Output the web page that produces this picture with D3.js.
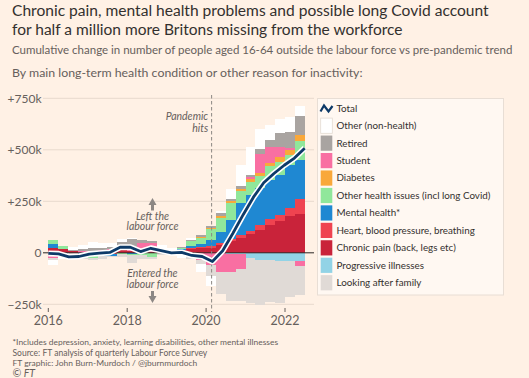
<!DOCTYPE html>
<meta charset="utf-8">
<script src="https://cdnjs.cloudflare.com/ajax/libs/d3/7.8.5/d3.min.js"></script>
<style>
  body { margin: 0; background: #fff1e5; }
  text { font-family: Lato, "Open Sans", sans-serif; }
</style>
<div id="chart"></div>
<script>

// quarterly bars, 2016 Q1 .. 2022 Q2 (values in thousands)
var quarters = d3.range(26).map(function(i) { return 2016 + i / 4; });

var progressive = [0,0,0,0,0,0,0,0,0,0,0,0,0,0,0,0,0,0,-5,-8,-25,-35,-36,-38,-40,-40];
var chronic     = [25,20,8,0,0,4,8,14,8,4,5,3,4,12,20,25,25,37,56,73,92,113,137,155,180,189];
var heart       = [0,0,0,0,0,0,-4,2,2,2,-3,0,0,2,2,3,6,11,9,11,13,24,28,30,38,74];
var mental      = [19,-8,0,-12,-15,-15,-10,0,-5,0,0,0,2,4,13,17,32,54,95,158,177,178,190,195,209,187];
var otherHealth = [20,12,0,0,-8,0,0,-8,-5,-12,-18,0,6,4,20,27,51,67,80,58,63,56,64,63,49,93];
var diabetes    = [0,0,0,0,0,0,0,0,0,0,0,0,0,0,2,6,5,8,10,8,11,16,16,24,24,29];
var student     = [-25,0,0,10,10,8,10,9,18,44,42,5,0,0,-10,-35,-60,-95,-90,-70,14,92,80,48,8,-24];
var family      = [-10,-12,-15,-20,-10,-15,-8,-12,-40,-18,-10,-12,-8,-12,-22,-18,-55,-105,-140,-157,-217,-220,-205,-205,-175,-139];
var retired     = [0,0,8,8,14,12,12,27,38,14,12,10,0,6,5,7,11,16,12,15,10,25,33,65,80,93];
var other       = [-25,-8,10,22,30,22,20,14,4,0,0,18,10,-15,8,-40,-48,12,48,102,135,96,72,69,69,47];

var total = [-3,-5,-20,-18,-6,-2,2,27,27,6,22,11,0,2,-13,-18,-42,10,95,185,270,340,385,425,460,508];

var yTicks = [-250, 0, 250, 500, 750];
var xTicks = [2016, 2018, 2020, 2022];
var pandemic = 2020.14;

// stacking order away from zero
var keys = ["progressive","chronic","heart","mental","otherHealth","diabetes","student","family","retired","other"];
var series = {progressive: progressive, chronic: chronic, heart: heart, mental: mental,
  otherHealth: otherHealth, diabetes: diabetes, student: student, family: family,
  retired: retired, other: other};

var colors = {
  other: "#ffffff", retired: "#a9a4a1", student: "#f96fa2", diabetes: "#f9a83a",
  otherHealth: "#90e79b", mental: "#1f88d2", heart: "#ef4350", chronic: "#c9233a",
  progressive: "#92d3e6", family: "#e0dad6"
};
var legendKeys = ["other","retired","student","diabetes","otherHealth","mental","heart","chronic","progressive","family"];
var labels = {
  other: "Other (non-health)", retired: "Retired", student: "Student", diabetes: "Diabetes",
  otherHealth: "Other health issues (incl long Covid)", mental: "Mental health*",
  heart: "Heart, blood pressure, breathing", chronic: "Chronic pain (back, legs etc)",
  progressive: "Progressive illnesses", family: "Looking after family"
};

var table = quarters.map(function(q, i) {
  var row = {date: q};
  keys.forEach(function(k) { row[k] = series[k][i]; });
  return row;
});

var width = 529, height = 378;
var svg = d3.select("#chart").append("svg")
  .attr("width", width).attr("height", height)
  .style("background", "#fff1e5");

// scale a text's font size so that it spans a given width
function fit(sel, w) {
  var l = sel.node().getComputedTextLength();
  var fs = parseFloat(sel.attr("font-size")) * w / l;
  sel.attr("font-size", fs);
  return fs;
}

// titles
fit(svg.append("text").attr("x", 12).attr("y", 15.5).attr("font-size", 16.5).attr("fill", "#33302e")
  .text("Chronic pain, mental health problems and possible long Covid account"), 477);
fit(svg.append("text").attr("x", 12).attr("y", 35).attr("font-size", 16.5).attr("fill", "#33302e")
  .text("for half a million more Britons missing from the workforce"), 391);
fit(svg.append("text").attr("x", 12).attr("y", 54).attr("font-size", 12).attr("fill", "#66605c")
  .text("Cumulative change in number of people aged 16-64 outside the labour force vs pre-pandemic trend"), 501);
fit(svg.append("text").attr("x", 12).attr("y", 77).attr("font-size", 12).attr("fill", "#66605c")
  .text("By main long-term health condition or other reason for inactivity:"), 351);

// scales
var x = d3.scaleLinear().domain([2016, 2022]).range([48.3, 285]);
var y = d3.scaleLinear().domain([-250, 750]).range([304.3, 98.3]);
var plotLeft = 43, plotRight = 314;

// gridlines + y labels
svg.append("g").selectAll("line").data(yTicks).enter().append("line")
  .attr("x1", plotLeft).attr("x2", plotRight)
  .attr("y1", function(d) { return y(d); }).attr("y2", function(d) { return y(d); })
  .attr("stroke", "#e8dacd").attr("stroke-width", 1);

svg.append("g").selectAll("text").data(yTicks).enter().append("text")
  .attr("x", 41.5).attr("y", function(d) { return y(d); }).attr("dy", "0.36em")
  .attr("text-anchor", "end").attr("font-size", 12).attr("fill", "#66605c")
  .text(function(d) { return d === 0 ? "0" : (d > 0 ? "+" : "\u2212") + Math.abs(d) + "k"; });

// stacked bars
var stack = d3.stack().keys(keys).offset(d3.stackOffsetDiverging);
var layers = stack(table);

svg.append("g").selectAll("g").data(layers).enter().append("g")
  .attr("fill", function(d) { return colors[d.key]; })
  .selectAll("rect").data(function(d) { return d; }).enter().append("rect")
    .attr("x", function(d) { return x(d.data.date); })
    .attr("width", function(d) { return x(d.data.date + 0.25) - x(d.data.date); })
    .attr("y", function(d) { return y(Math.max(d[0], d[1])); })
    .attr("height", function(d) { return Math.abs(y(d[0]) - y(d[1])); })
    .attr("shape-rendering", "crispEdges");

// zero line
svg.append("line").attr("x1", plotLeft).attr("x2", plotRight)
  .attr("y1", y(0)).attr("y2", y(0)).attr("stroke", "#33302e").attr("stroke-width", 1);

// pandemic marker
svg.append("line").attr("x1", x(pandemic)).attr("x2", x(pandemic))
  .attr("y1", 95).attr("y2", 312)
  .attr("stroke", "#8c8784").attr("stroke-width", 1).attr("stroke-dasharray", "3.5,2.5");
svg.append("text").attr("x", x(pandemic) - 3.5).attr("y", 119.5).attr("text-anchor", "end")
  .attr("font-size", 10.5).attr("font-style", "italic").attr("fill", "#66605c").text("Pandemic");
svg.append("text").attr("x", x(pandemic) - 3.5).attr("y", 131.5).attr("text-anchor", "end")
  .attr("font-size", 10.5).attr("font-style", "italic").attr("fill", "#66605c").text("hits");

// total line
var lineX = d3.scaleLinear().domain([0, total.length - 1])
  .range([x(quarters[0]), x(quarters[quarters.length - 1] + 0.25)]);
var line = d3.line().x(function(d, i) { return lineX(i); }).y(function(d) { return y(d); });
svg.append("path").datum(total).attr("d", line).attr("fill", "none")
  .attr("stroke", "#ffffff").attr("stroke-width", 6).attr("stroke-linejoin", "round");
svg.append("path").datum(total).attr("d", line).attr("fill", "none")
  .attr("stroke", "#0d3a68").attr("stroke-width", 2.8).attr("stroke-linejoin", "round");

// x axis ticks + labels
svg.append("g").selectAll("line").data(xTicks).enter().append("line")
  .attr("x1", function(d) { return x(d); }).attr("x2", function(d) { return x(d); })
  .attr("y1", 308).attr("y2", 312).attr("stroke", "#66605c");
svg.append("g").selectAll("text").data(xTicks).enter().append("text")
  .attr("x", function(d) { return x(d); }).attr("y", 324.5).attr("text-anchor", "middle")
  .attr("font-size", 12.5).attr("fill", "#66605c").text(function(d) { return d; });

// left / entered annotations
var ax = 152.5, grey = "#8c8784";
svg.append("path").attr("d", "M" + (ax - 4) + ",205 L" + ax + ",198 L" + (ax + 4) + ",205 Z").attr("fill", grey);
svg.append("rect").attr("x", ax - 1.5).attr("y", 204).attr("width", 3).attr("height", 6.5).attr("fill", grey);
svg.append("path").attr("d", "M" + (ax - 4) + ",296 L" + ax + ",303 L" + (ax + 4) + ",296 Z").attr("fill", grey);
svg.append("rect").attr("x", ax - 1.5).attr("y", 291).attr("width", 3).attr("height", 6).attr("fill", grey);
[["Left the", 219.5], ["labour force", 230], ["Entered the", 277], ["labour force", 287.5]].forEach(function(t) {
  svg.append("text").attr("x", ax).attr("y", t[1]).attr("text-anchor", "middle")
    .attr("font-size", 10.5).attr("font-style", "italic").attr("fill", "#66605c").text(t[0]);
});

// legend
var lg = svg.append("g");
lg.append("rect").attr("x", 317.5).attr("y", 98.5).attr("width", 186).attr("height", 196.5)
  .attr("fill", "#fff8f2").attr("stroke", "#e8ded5");
lg.append("path").attr("d", "M320.5,111.5 L324,105.5 L328.5,111.5 L332.5,106")
  .attr("fill", "none").attr("stroke", "#0d3a68").attr("stroke-width", 2.2);
var probe = lg.append("text").attr("font-size", 11).text(labels.otherHealth);
var legendSize = fit(probe, 154);
probe.remove();
lg.append("text").attr("x", 336.5).attr("y", 108.5).attr("dy", "0.35em")
  .attr("font-size", legendSize).attr("fill", "#33302e").text("Total");
legendKeys.forEach(function(k, i) {
  var cy = 125.7 + i * 17.45;
  lg.append("rect").attr("x", 320.7).attr("y", cy - 7.6).attr("width", 11.6).attr("height", 15.2)
    .attr("fill", colors[k]).attr("stroke", k === "other" ? "#e3dad2" : "none").attr("stroke-width", 0.8);
  lg.append("text").attr("x", 336.5).attr("y", cy).attr("dy", "0.35em")
    .attr("font-size", legendSize).attr("fill", "#33302e").text(labels[k]);
});

// footer
fit(svg.append("text").attr("x", 12.5).attr("y", 345).attr("font-size", 10).attr("fill", "#66605c")
  .text("*Includes depression, anxiety, learning disabilities, other mental illnesses"), 266);
fit(svg.append("text").attr("x", 12.5).attr("y", 355.5).attr("font-size", 10).attr("fill", "#66605c")
  .text("Source: FT analysis of quarterly Labour Force Survey"), 195);
fit(svg.append("text").attr("x", 12.5).attr("y", 366).attr("font-size", 10).attr("fill", "#66605c")
  .text("FT graphic: John Burn-Murdoch / @jburnmurdoch"), 185);
svg.append("text").attr("x", 12.5).attr("y", 376.5).attr("font-size", 10.5).attr("font-style", "italic")
  .attr("fill", "#66605c").text("\u00a9 FT");

</script>
